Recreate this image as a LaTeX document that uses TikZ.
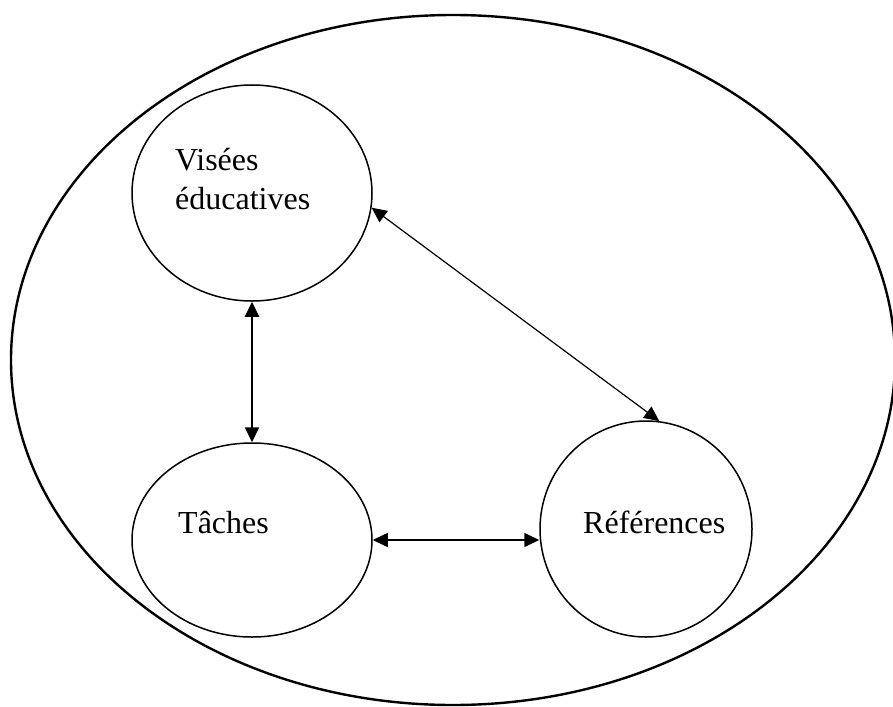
\documentclass[tikz,border=0pt]{standalone}
\usepackage{fontspec}
\setmainfont{Liberation Serif}
\usetikzlibrary{shapes.geometric,arrows.meta}
\tikzset{
  bubble/.style={draw, ellipse, line width=1.5pt, inner sep=0pt},
  lbl/.style={anchor=base west, inner sep=0pt, font=\fontsize{32}{38}\selectfont},
  link/.style={{Triangle[length=15pt,width=14pt]}-{Triangle[length=15pt,width=14pt]}}
}
\begin{document}
\begin{tikzpicture}[x=1pt,y=-1pt]
\useasboundingbox (0,0) rectangle (893,706);
\node[draw, ellipse, line width=2.4pt, minimum width=884pt, minimum height=690pt, inner sep=0pt] (outer) at (453,360) {};
\node[bubble, minimum width=240pt, minimum height=216pt] (vis) at (252,193) {};
\node[bubble, minimum width=240pt, minimum height=194pt] (tac) at (252,540) {};
\node[bubble, minimum width=212pt, minimum height=216pt] (ref) at (646,529) {};
\node[lbl] (vis1) at (175,170) {Visées};
\node[lbl] (vis2) at (175,209) {éducatives};
\node[lbl] (tact) at (178,533) {Tâches};
\node[lbl] (reft) at (583,533) {Références};
\draw[link, line width=2.2pt] (vis.south) -- (tac.north);
\draw[link, line width=1.6pt] (tac.east) -- (tac.east -| ref.west);
\draw[link, line width=1.2pt] (vis.-7) -- (ref.83);
\end{tikzpicture}
\end{document}
